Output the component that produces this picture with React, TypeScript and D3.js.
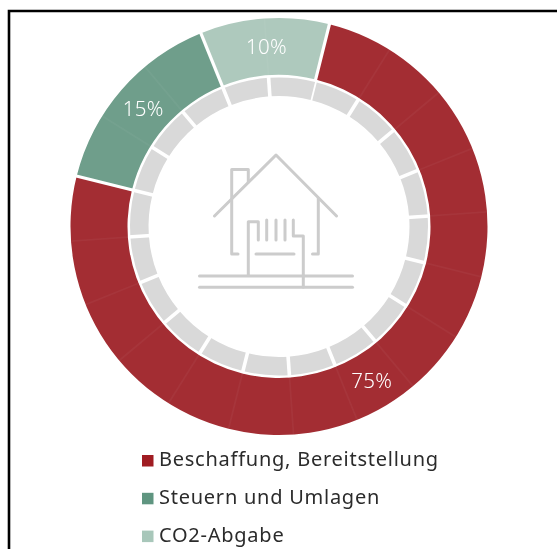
import React from "react";
import * as d3 from "d3";

const categories = ["Beschaffung, Bereitstellung", "Steuern und Umlagen", "CO2-Abgabe"];
const shares = [75, 15, 10];
const ringColors = ["#A32D33", "#6F9E8B", "#AEC9BD"];
const legendColors = ["#A01C22", "#5F9580", "#A8C7BA"];
const segmentCount = 20;
const startDeg = 14;

const W = 557, H = 549, cx = 279, cy = 226.5;
const rad = (d: number) => (d * Math.PI) / 180;
const font = "'Noto Sans', sans-serif";

const housePaths = [
  "M214.5 216 L276 155 L336.5 216",
  "M238 254 H231.7 V169.5 H248.3 V182",
  "M318.3 198 V254 H312.5",
  "M248.3 275 V221.7 H258.3 V240",
  "M266.7 220 V240", "M276 220 V240", "M285 220 V240",
  "M293.3 220 V236 H303.3 V287",
  "M256 254 H294",
  "M199.5 276 H352.5",
  "M199.5 287.3 H352.5",
];

export default function App() {
  const pie = d3.pie<number>().sort(null)
    .startAngle(rad(startDeg)).endAngle(rad(startDeg + 360));
  const slices = pie(shares);
  const arc = d3.arc<any>().innerRadius(151.5).outerRadius(208.5);
  const labelArc = d3.arc<any>().innerRadius(180).outerRadius(180);

  const graySegs = pie(d3.range(segmentCount).map(() => 1));
  const grayArc = d3.arc<any>().innerRadius(130.5).outerRadius(149);

  return (
    <svg width={W} height={H} style={{ position: "absolute", left: 0, top: 0, background: "#fff" }}>
      <g style={{ filter: "blur(0.45px)" }}>
        <path d={`M9 ${H + 5} V11 H${W + 5}`} fill="none" stroke="#000" strokeWidth={2.6} />
        <g transform={`translate(${cx},${cy})`}>
          {slices.map((s, i) => (
            <path key={i} d={arc(s) as string} fill={ringColors[i]} />
          ))}
          {graySegs.map((s, i) => {
            const a = s.startAngle;
            const sin = Math.sin(a), cos = Math.cos(a);
            return (
              <g key={i}>
                <path d={grayArc(s) as string} fill="#D9D9D9" />
                <line x1={sin * 128} y1={-cos * 128} x2={sin * 151} y2={-cos * 151} stroke="#fff" strokeWidth={3.6} />
                <line x1={sin * 151.5} y1={-cos * 151.5} x2={sin * 208.5} y2={-cos * 208.5} stroke="#fff" strokeOpacity={0.04} strokeWidth={1.8} />
              </g>
            );
          })}
          {slices.map((s, i) => {
            const a = s.startAngle;
            const sin = Math.sin(a), cos = Math.cos(a);
            return <line key={i} x1={sin * 150} y1={-cos * 150} x2={sin * 210} y2={-cos * 210} stroke="#fff" strokeWidth={3.2} />;
          })}
          {slices.map((s, i) => {
            const [x, y] = labelArc.centroid(s);
            return (
              <text key={i} x={x} y={y + 7.2} textAnchor="middle" fontFamily={font} fontSize={20.5} fontWeight={300} fill="#fff" letterSpacing={0.2}>
                {s.data}%
              </text>
            );
          })}
        </g>
        <g fill="none" stroke="#CCCCCC" strokeWidth={3} strokeLinecap="round" strokeLinejoin="round">
          {housePaths.map((d, i) => <path key={i} d={d} />)}
        </g>
        {categories.map((c, i) => {
          const y = 466.3 + i * 37.8;
          return (
            <g key={c}>
              <rect x={142} y={y - 11.3} width={11.5} height={11.5} fill={legendColors[i]} />
              <text x={159} y={y} fontFamily={font} fontSize={20} fill="#2b2b2b" letterSpacing={0.75}>{c}</text>
            </g>
          );
        })}
      </g>
    </svg>
  );
}
